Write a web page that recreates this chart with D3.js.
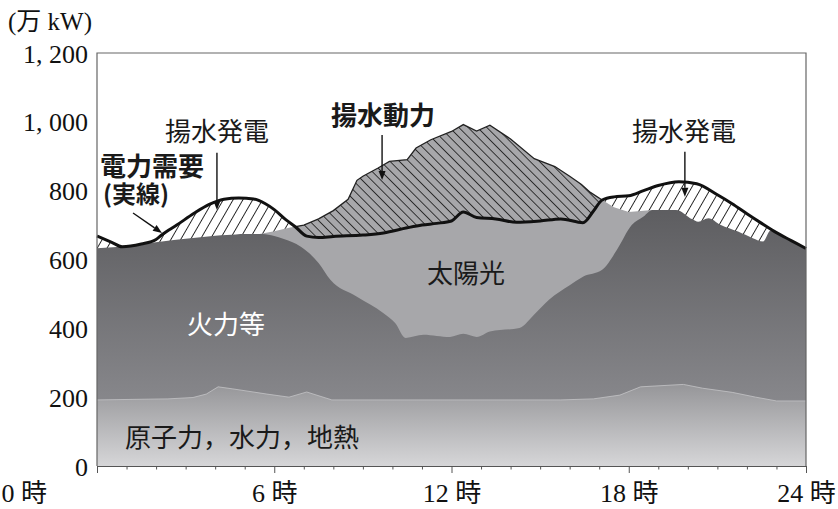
<!DOCTYPE html>
<html>
<head>
<meta charset="utf-8">
<script src="https://cdn.jsdelivr.net/npm/d3@7"></script>
<style>
body { margin: 0; background: #fff; }
svg { display: block; }
</style>
</head>
<body>
<svg id="chart" width="838" height="509"></svg>
<script>
// 電力需要 (demand, solid line)
var demandHours = [0, 0.5, 0.85, 1.5, 2, 2.2, 2.7, 3.3, 3.8, 4.3, 4.8, 5.3, 5.7, 6, 6.4, 6.7, 7.1, 7.5, 8, 9, 9.7, 10.5, 11, 11.5, 12, 12.4, 12.85, 13.5, 14.2, 15, 15.7, 16.45, 16.8, 17.1, 17.5, 18, 18.5, 19, 19.7, 20.3, 21, 21.5, 22, 22.5, 23, 23.5, 24];
var demand      = [668, 650, 637, 645, 658, 672, 700, 735, 760, 775, 779, 776, 762, 745, 715, 696, 668, 664, 667, 671, 677, 692, 700, 705, 712, 738, 722, 718, 708, 712, 718, 707, 740, 773, 782, 785, 800, 815, 826, 820, 788, 762, 733, 705, 678, 655, 632];

// 太陽光 top (cumulative supply incl. solar)
var solarHours = [5.5, 6, 6.5, 7, 7.5, 8, 8.5, 8.8, 9, 9.5, 9.9, 10.5, 10.8, 11.3, 12, 12.4, 12.85, 13.3, 14, 14.8, 15.5, 16, 16.4, 16.7, 17.1, 17.5, 18, 18.5, 18.8, 19];
var solar      = [674, 682, 692, 700, 718, 742, 775, 830, 842, 865, 885, 890, 924, 948, 972, 992, 973, 990, 950, 893, 870, 842, 818, 795, 773, 752, 738, 742, 744, 744];

// 火力等 top (cumulative)
var thermalHours = [0, 0.8, 1.5, 2.2, 3, 4, 4.4, 5, 5.6, 6, 6.3, 6.9, 7.5, 7.9, 8.8, 9.7, 10.1, 10.45, 11.05, 11.5, 11.95, 12.4, 12.85, 13.3, 14.3, 14.8, 15.3, 16, 16.45, 17.1, 17.6, 18.1, 18.5, 18.8, 19.6, 20.15, 20.35, 20.7, 21.1, 21.7, 22.2, 22.55, 22.8, 23, 23.5, 24];
var thermal      = [633, 637, 645, 652, 660, 669, 671, 674, 674, 668, 660, 637, 590, 541, 492, 444, 415, 372, 381, 378, 375, 384, 375, 391, 401, 440, 483, 525, 550, 570, 628, 700, 725, 744, 744, 717, 710, 720, 701, 681, 662, 652, 684, 678, 655, 632];

// 原子力，水力，地熱 top
var baseHours = [0, 2.4, 3.25, 3.7, 4.1, 4.6, 5.75, 6.5, 7.1, 7.95, 15.7, 16.8, 17.7, 18.4, 19.85, 20.5, 21.5, 22.3, 23, 24];
var base      = [192, 195, 199, 209, 230, 224, 209, 200, 215, 192, 192, 195, 206, 230, 237, 226, 214, 200, 189, 189];

var yTicks = [0, 200, 400, 600, 800, 1000, 1200];
var xTicks = d3.range(0, 25);

var svg = d3.select("#chart");
var padL = 97, padR = 806, padT = 53, padB = 466;

var x = d3.scaleLinear().domain([0, 24]).range([padL, padR]);
var y = d3.scaleLinear().domain([0, 1200]).range([padB, padT]);

var serif = "'Liberation Serif','DejaVu Serif','Noto Sans CJK JP',serif";
var gothic = "'Noto Sans CJK JP','Noto Sans',sans-serif";

function pts(hours, vals) {
	return hours.map(function(h, i) { return [h, vals[i]]; });
}
var demandPts = pts(demandHours, demand);
var solarPts = pts(solarHours, solar);
var thermalPts = pts(thermalHours, thermal);
var basePts = pts(baseHours, base);

var defs = svg.append("defs");

var g1 = defs.append("linearGradient").attr("id", "baseGrad")
	.attr("gradientUnits", "userSpaceOnUse").attr("x1", 0).attr("x2", 0).attr("y1", y(240)).attr("y2", y(0));
g1.append("stop").attr("offset", 0).attr("stop-color", "#959598");
g1.append("stop").attr("offset", 1).attr("stop-color", "#d6d6d8");

var g2 = defs.append("linearGradient").attr("id", "thermalGrad")
	.attr("gradientUnits", "userSpaceOnUse").attr("x1", 0).attr("x2", 0).attr("y1", y(750)).attr("y2", y(190));
g2.append("stop").attr("offset", 0).attr("stop-color", "#5d5d60");
g2.append("stop").attr("offset", 1).attr("stop-color", "#87878b");

// hatch for 揚水発電 ("/") and 揚水動力 ("\")
defs.append("pattern").attr("id", "hatchGen")
	.attr("patternUnits", "userSpaceOnUse").attr("width", 8.5).attr("height", 10)
	.attr("patternTransform", "rotate(30)")
	.append("line").attr("x1", 4.25).attr("x2", 4.25).attr("y1", 0).attr("y2", 10)
	.attr("stroke", "#111").attr("stroke-width", 0.9);
defs.append("pattern").attr("id", "hatchPump")
	.attr("patternUnits", "userSpaceOnUse").attr("width", 6.6).attr("height", 10)
	.attr("patternTransform", "rotate(-45)")
	.append("line").attr("x1", 3.3).attr("x2", 3.3).attr("y1", 0).attr("y2", 10)
	.attr("stroke", "#111").attr("stroke-width", 0.8);

var smooth = d3.curveMonotoneX;

defs.append("clipPath").attr("id", "aboveDemand")
	.append("path")
	.attr("d", d3.area().curve(smooth)
		.x(function(d) { return x(d[0]); })
		.y0(0)
		.y1(function(d) { return y(d[1]); })(demandPts));

function areaFrom0(curve) {
	return d3.area().curve(curve)
		.x(function(d) { return x(d[0]); })
		.y0(y(0))
		.y1(function(d) { return y(d[1]); });
}
var lineOf = function(curve) {
	return d3.line().curve(curve).x(function(d) { return x(d[0]); }).y(function(d) { return y(d[1]); });
};

// pumped generation hatch (white), covered below by supply
svg.append("path").attr("d", areaFrom0(smooth)(demandPts)).attr("fill", "url(#hatchGen)");

svg.append("path").attr("d", areaFrom0(d3.curveLinear)(solarPts)).attr("fill", "#a7a7aa");
svg.append("path").attr("d", areaFrom0(smooth)(thermalPts)).attr("fill", "url(#thermalGrad)");
svg.append("path").attr("d", areaFrom0(d3.curveLinear)(basePts)).attr("fill", "url(#baseGrad)");
svg.append("path").attr("d", lineOf(d3.curveLinear)(basePts))
	.attr("fill", "none").attr("stroke", "#c4c4c6").attr("stroke-width", 0.8);

// pumping power: solar above demand
svg.append("path").attr("d", areaFrom0(d3.curveLinear)(solarPts))
	.attr("fill", "url(#hatchPump)").attr("clip-path", "url(#aboveDemand)");
svg.append("path").attr("d", lineOf(d3.curveLinear)(solarPts))
	.attr("fill", "none").attr("stroke", "#222").attr("stroke-width", 1.3)
	.attr("clip-path", "url(#aboveDemand)");

svg.append("path").attr("d", lineOf(smooth)(demandPts))
	.attr("fill", "none").attr("stroke", "#111").attr("stroke-width", 3).attr("stroke-linejoin", "round");

// frame
svg.append("path")
	.attr("d", "M" + padL + "," + padB + "V" + padT + "H" + padR + "V" + padB)
	.attr("fill", "none").attr("stroke", "#666").attr("stroke-width", 1.2);

var xAxis = svg.append("g").attr("transform", "translate(0," + padB + ")")
	.call(d3.axisBottom(x).tickValues(xTicks).tickSizeInner(3.5).tickSizeOuter(0).tickPadding(0)
		.tickFormat(function(d) { return d % 6 === 0 ? d + " 時" : ""; }));
xAxis.select(".domain").attr("stroke", "#555").attr("stroke-width", 1.2);
xAxis.selectAll(".tick line").attr("stroke", "#555")
	.attr("y2", function(d) { return d % 6 === 0 ? 7 : 3.5; });
xAxis.selectAll(".tick text")
	.attr("y", 36).attr("dy", 0).attr("fill", "#111")
	.style("font-family", serif).style("font-size", "26px")
	.filter(function(d) { return d === 0; })
	.attr("text-anchor", "start").attr("x", -padL + 1);

var yAxis = svg.append("g").attr("transform", "translate(" + (padL - 9) + ",0)")
	.call(d3.axisLeft(y).tickValues(yTicks).tickSize(0).tickPadding(0)
		.tickFormat(function(d) { return d3.format(",")(d).replace(",", ", "); }));
yAxis.select(".domain").remove();
yAxis.selectAll(".tick text").attr("fill", "#111").attr("dy", "0.35em")
	.style("font-family", serif).style("font-size", "26px");

svg.append("text").attr("x", 8).attr("y", 21).attr("dy", "0.35em")
	.attr("fill", "#111").style("font-family", serif).style("font-size", "25px")
	.text("(万 kW)");

function label(txt, h, v, opts) {
	opts = opts || {};
	return svg.append("text")
		.attr("x", x(h)).attr("y", y(v)).attr("dy", "0.36em")
		.attr("text-anchor", opts.anchor || "middle")
		.attr("fill", opts.fill || "#1a1a1a")
		.style("font-family", gothic)
		.style("font-weight", opts.bold ? 700 : 400)
		.style("font-size", (opts.size || 26) + "px")
		.text(txt);
}

function arrow(h1, v1, h2, v2) {
	var x1 = x(h1), y1 = y(v1), x2 = x(h2), y2 = y(v2);
	var a = Math.atan2(y2 - y1, x2 - x1), L = 9, Wd = 3.5;
	var bx = x2 - L * Math.cos(a), by = y2 - L * Math.sin(a);
	svg.append("line").attr("x1", x1).attr("y1", y1).attr("x2", bx).attr("y2", by)
		.attr("stroke", "#111").attr("stroke-width", 1.4);
	svg.append("path")
		.attr("d", "M" + x2 + "," + y2 +
			"L" + (bx + Wd * Math.sin(a)) + "," + (by - Wd * Math.cos(a)) +
			"L" + (bx - Wd * Math.sin(a)) + "," + (by + Wd * Math.cos(a)) + "Z")
		.attr("fill", "#111");
}

label("揚水発電", 4.06, 971);
arrow(4.06, 910, 4.06, 744);
label("電力需要", 0.1, 870, {anchor: "start", bold: true});
label("(実線)", 0.2, 788, {anchor: "start", bold: true, size: 24});
arrow(1.22, 735, 2.2, 677);
label("揚水動力", 9.68, 1017, {bold: true});
arrow(9.65, 962, 9.65, 831);
label("揚水発電", 19.87, 971);
arrow(19.9, 913, 19.9, 782);
label("太陽光", 12.49, 558);
label("火力等", 4.37, 410, {fill: "#ffffff"});
label("原子力，水力，地熱", 0.95, 81, {anchor: "start"});
</script>
</body>
</html>
